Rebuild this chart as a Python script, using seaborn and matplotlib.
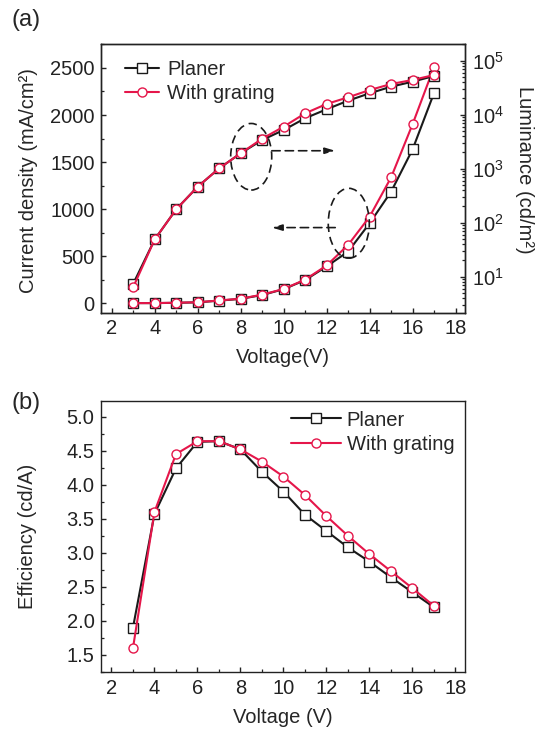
import numpy as np
import pandas as pd
import matplotlib
matplotlib.use('Agg')
import matplotlib.pyplot as plt
import seaborn as sns
from matplotlib.patches import Ellipse
from matplotlib.ticker import MultipleLocator, LogLocator, NullFormatter
from matplotlib.lines import Line2D

# ---------------- data ----------------
voltage = [3, 4, 5, 6, 7, 8, 9, 10, 11, 12, 13, 14, 15, 16, 17]
series = ['Planer', 'With grating']
j_planer = [0, 0, 3, 8, 26, 45, 86, 148, 245, 390, 548, 849, 1185, 1635, 2236]
j_grating = [0, 0, 4, 9, 28, 47, 90, 150, 250, 400, 619, 919, 1337, 1903, 2512]
lum_planer = [7.4, 49, 177, 464, 1016, 1930, 3400, 5200, 8600, 12600, 18200, 24900, 33000, 40900, 52100]
lum_grating = [6.4, 49, 177, 464, 1016, 1930, 3600, 6000, 10600, 15800, 21000, 28600, 37000, 44000, 54300]
eff_planer = [1.90, 3.57, 4.24, 4.63, 4.64, 4.52, 4.19, 3.90, 3.56, 3.32, 3.08, 2.87, 2.64, 2.42, 2.20]
eff_grating = [1.60, 3.60, 4.45, 4.64, 4.64, 4.52, 4.34, 4.12, 3.85, 3.54, 3.25, 2.98, 2.73, 2.48, 2.22]

# ---------------- style ----------------
sns.set_style('ticks', {'xtick.direction': 'in', 'ytick.direction': 'in'})
plt.rcParams['font.family'] = ['Liberation Sans', 'DejaVu Sans']
plt.rcParams.update({
    'mathtext.fontset': 'custom',
    'mathtext.rm': 'Liberation Sans',
    'mathtext.it': 'Liberation Sans:italic',
    'mathtext.bf': 'Liberation Sans:bold',
    'axes.linewidth': 1.0,
    'axes.edgecolor': '#222222',
    'xtick.major.size': 3.4, 'ytick.major.size': 3.4,
    'xtick.minor.size': 2.0, 'ytick.minor.size': 2.0,
    'xtick.major.width': 1.0, 'ytick.major.width': 1.0,
    'xtick.minor.width': 0.9, 'ytick.minor.width': 0.9,
    'xtick.major.pad': 4.5, 'ytick.major.pad': 4.5,
    'xtick.color': '#222222', 'ytick.color': '#222222',
})

BLACK = '#1a1a1a'
RED = '#E5164A'
FS = 14.5
colors = {'Planer': BLACK, 'With grating': RED}
markers = {'Planer': 's', 'With grating': 'o'}
MS = 6.5
LW = 1.5

fig = plt.figure(figsize=(5.38, 7.31), dpi=100)
axA = fig.add_axes([0.1877, 0.5725, 0.6775, 0.3673])
axB = fig.add_axes([0.1872, 0.0803, 0.6777, 0.3711])


def draw(ax, x, y, name):
    sns.lineplot(x=x, y=y, ax=ax, color=colors[name], marker=markers[name],
                 mfc='white', mec=colors[name], mew=1.0, ms=MS, lw=LW,
                 legend=False, zorder=3)


# ---------------- panel (a) ----------------
draw(axA, voltage, j_planer, 'Planer')
draw(axA, voltage, j_grating, 'With grating')
ax2 = axA.twinx()
ax2.set_yscale('log')
draw(ax2, voltage, lum_planer, 'Planer')
draw(ax2, voltage, lum_grating, 'With grating')

axA.set_xlim(1.5, 18.46)
axA.set_ylim(-100, 2755)
ax2.set_ylim(10 ** 0.337, 10 ** 5.309)
axA.xaxis.set_major_locator(MultipleLocator(2))
axA.xaxis.set_minor_locator(MultipleLocator(1))
axA.yaxis.set_major_locator(MultipleLocator(500))
axA.yaxis.set_minor_locator(MultipleLocator(250))
ax2.yaxis.set_major_locator(LogLocator(base=10, numticks=10))
ax2.yaxis.set_minor_locator(LogLocator(base=10, subs=np.arange(2, 10), numticks=20))
ax2.yaxis.set_minor_formatter(NullFormatter())
axA.tick_params(axis='both', which='both', top=False, right=False, labelsize=FS)
ax2.tick_params(axis='y', which='both', right=True, left=False, labelsize=FS)
for sp in ['top', 'right', 'left', 'bottom']:
    axA.spines[sp].set_visible(True)
    ax2.spines[sp].set_visible(True)

axA.set_xlabel('Voltage(V)', fontsize=FS)
axA.xaxis.set_label_coords(0.5, -0.166)
axA.xaxis.label.set_verticalalignment('center')
axA.set_ylabel('Current density (mA/cm²)', fontsize=FS)
axA.yaxis.set_label_coords(-0.2, 0.49)
axA.yaxis.label.set_verticalalignment('center')
ax2.set_ylabel('Luminance (cd/m²)', fontsize=FS, rotation=270)
ax2.yaxis.set_label_coords(1.163, 0.53)
ax2.yaxis.label.set_verticalalignment('center')

# annotations: dashed ellipses and arrows
for (cx, cy, w, h) in [(8.49, 1556, 1.91, 708), (13.03, 849, 1.91, 743)]:
    axA.add_patch(Ellipse((cx, cy), w, h, fill=False, ls=(0, (5, 3)), lw=1.2,
                          color=BLACK, zorder=4))
axA.annotate('', xy=(12.4, 1620), xytext=(9.45, 1620),
             arrowprops=dict(arrowstyle='-|>,head_length=0.6,head_width=0.18',
                             ls=(0, (5, 3)), lw=1.2, color=BLACK,
                             shrinkA=0, shrinkB=0))
axA.annotate('', xy=(9.45, 803), xytext=(12.4, 803),
             arrowprops=dict(arrowstyle='-|>,head_length=0.6,head_width=0.18',
                             ls=(0, (5, 3)), lw=1.2, color=BLACK,
                             shrinkA=0, shrinkB=0))

handles = [Line2D([], [], color=colors[s], marker=markers[s], mfc='white',
                  mec=colors[s], mew=1.0, ms=MS, lw=LW) for s in series]
ax2.legend(handles, series, loc='upper left', bbox_to_anchor=(0.066, 0.94),
           frameon=False, fontsize=FS, handlelength=1.7, handletextpad=0.4,
           labelspacing=0.25, borderaxespad=0, borderpad=0)

# ---------------- panel (b) ----------------
draw(axB, voltage, eff_planer, 'Planer')
draw(axB, voltage, eff_grating, 'With grating')
axB.set_xlim(1.5, 18.46)
axB.set_ylim(1.245, 5.23)
axB.xaxis.set_major_locator(MultipleLocator(2))
axB.xaxis.set_minor_locator(MultipleLocator(1))
axB.yaxis.set_major_locator(MultipleLocator(0.5))
axB.yaxis.set_minor_locator(MultipleLocator(0.25))
axB.yaxis.set_major_formatter(matplotlib.ticker.FormatStrFormatter('%.1f'))
axB.tick_params(axis='both', which='both', top=False, right=False, labelsize=FS)
for sp in ['top', 'right', 'left', 'bottom']:
    axB.spines[sp].set_visible(True)
axB.set_xlabel('Voltage (V)', fontsize=FS)
axB.xaxis.set_label_coords(0.5, -0.168)
axB.xaxis.label.set_verticalalignment('center')
axB.set_ylabel('Efficiency (cd/A)', fontsize=FS)
axB.yaxis.set_label_coords(-0.2, 0.5)
axB.yaxis.label.set_verticalalignment('center')
axB.legend(handles, series, loc='upper left', bbox_to_anchor=(0.522, 0.965),
           frameon=False, fontsize=FS, handlelength=2.5, handletextpad=0.26,
           labelspacing=0.25, borderaxespad=0, borderpad=0)

fig.text(0.048, 0.973, '(a)', fontsize=17, ha='center', va='center')
fig.text(0.049, 0.4487, '(b)', fontsize=17, ha='center', va='center')

fig.savefig('out.png', dpi=100, facecolor='white')
